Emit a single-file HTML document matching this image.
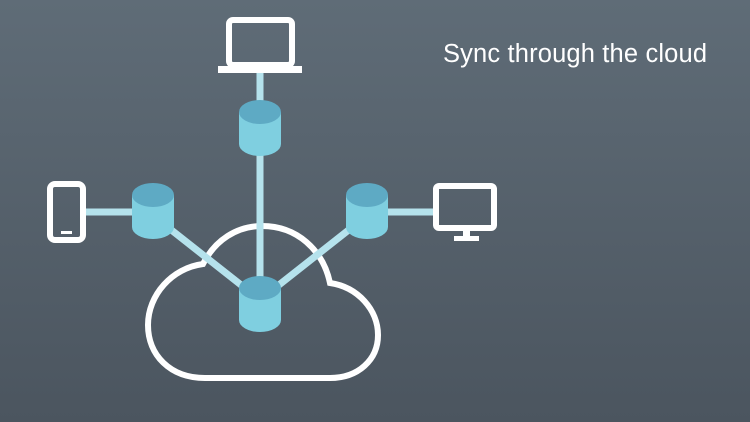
<!DOCTYPE html>
<html><head><meta charset="utf-8"><style>
html,body{margin:0;padding:0;background:#4b555f}
body{width:750px;height:422px;overflow:hidden;background:linear-gradient(#5f6c77,#4b555f);}
svg{display:block}
</style></head><body>
<svg width="750" height="422" viewBox="0 0 750 422" xmlns="http://www.w3.org/2000/svg">
<defs>
<g id="cyl">
<path d="M-21 0 V32 A21 12 0 0 0 21 32 V0 Z" fill="#7fcfe0"/>
<ellipse cx="0" cy="0" rx="21" ry="12" fill="#5eaac4"/>
</g>
</defs>
<path d="M205 378 C170 378 148 355 148 325 C148 295 172 268 203 264 C215 240 237 226 262 226 C297 226 323 250 330 283 C358 287 378 310 378 335 C378 360 358 378 330 378 Z" fill="none" stroke="#fff" stroke-width="6"/>
<g stroke="#b5e2ec" stroke-width="7">
<line x1="260" y1="72" x2="260" y2="290"/>
<line x1="86" y1="212" x2="140" y2="212"/>
<line x1="380" y1="212" x2="434" y2="212"/>
<line x1="165" y1="225" x2="250" y2="292"/>
<line x1="355" y1="225" x2="270" y2="292"/>
</g>
<use href="#cyl" x="260" y="112"/>
<use href="#cyl" x="153" y="195"/>
<use href="#cyl" x="367" y="195"/>
<use href="#cyl" x="260" y="288"/>
<rect x="229" y="20" width="63" height="45" rx="4" fill="none" stroke="#fff" stroke-width="6"/>
<rect x="218" y="66" width="84" height="7" fill="#fff"/>
<rect x="50" y="184" width="33" height="56" rx="5" fill="none" stroke="#fff" stroke-width="6"/>
<rect x="61" y="231" width="11" height="3" fill="#fff"/>
<rect x="436" y="186" width="58" height="42" rx="3" fill="none" stroke="#fff" stroke-width="6"/>
<rect x="463" y="229" width="7" height="8" fill="#fff"/>
<rect x="454" y="236" width="25" height="5" fill="#fff"/>
<text x="443" y="62" font-family="Liberation Sans, sans-serif" font-size="25.5" fill="#fff" textLength="264">Sync through the cloud</text>
</svg>
</body></html>
